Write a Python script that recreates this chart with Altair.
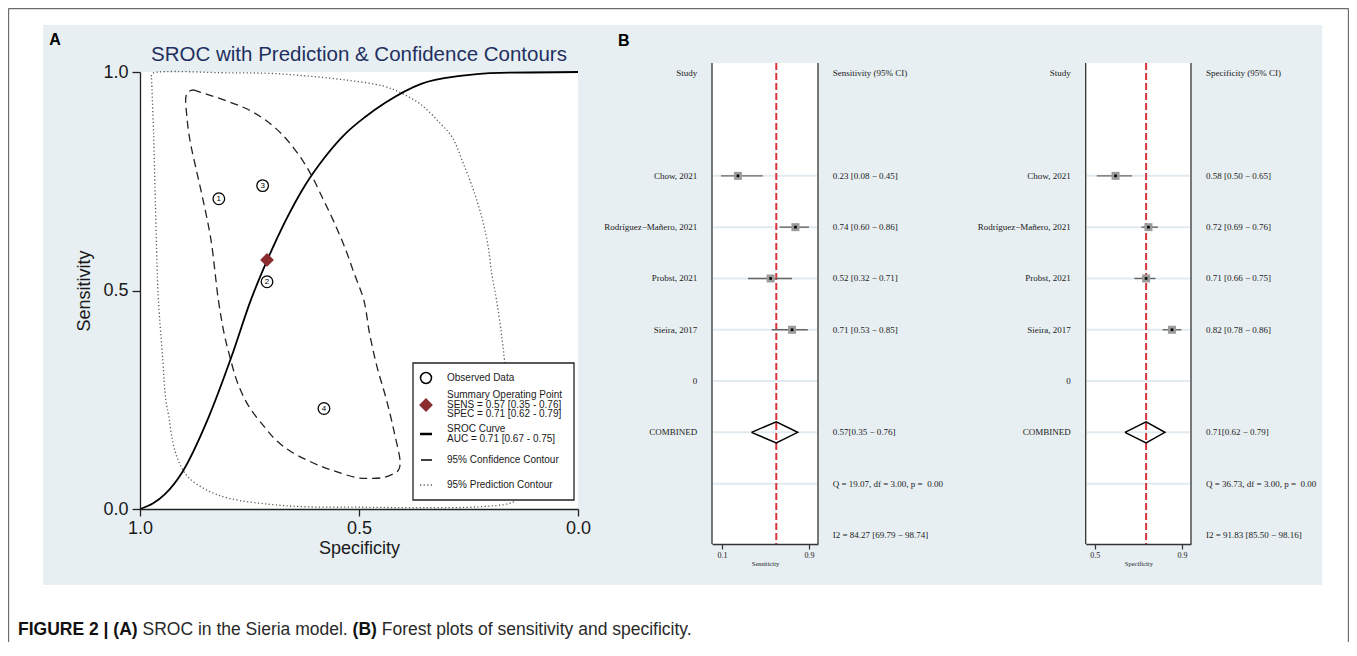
import altair as alt
import pandas as pd

# ---------------- data ----------------
studies = ["Chow, 2021", "Rodríguez−Mañero, 2021", "Probst, 2021", "Sieira, 2017"]
sroc_id = [4, 3, 2, 1]
sens = [0.23, 0.74, 0.52, 0.71]
sens_lo = [0.08, 0.60, 0.32, 0.53]
sens_hi = [0.45, 0.86, 0.71, 0.85]
spec = [0.58, 0.72, 0.71, 0.82]
spec_lo = [0.50, 0.69, 0.66, 0.78]
spec_hi = [0.65, 0.76, 0.75, 0.86]

sum_sens = [0.57, 0.35, 0.76]
sum_spec = [0.71, 0.62, 0.79]
auc = [0.71, 0.67, 0.75]
q_sens = [19.07, 3.00, 0.00]
i2_sens = [84.27, 69.79, 98.74]
q_spec = [36.73, 3.00, 0.00]
i2_spec = [91.83, 85.50, 98.16]
sens_ticks = [0.1, 0.9]
spec_ticks = [0.5, 0.9]
sroc_ticks = [0.0, 0.5, 1.0]

sroc_spec = [1.0, 0.970, 0.943, 0.905, 0.843, 0.791, 0.747, 0.711, 0.669, 0.623,
             0.578, 0.532, 0.486, 0.441, 0.358, 0.269, 0.178, 0.0]
sroc_sens = [0.0, 0.013, 0.034, 0.082, 0.211, 0.349, 0.478, 0.566, 0.657, 0.741,
             0.805, 0.858, 0.897, 0.929, 0.973, 0.991, 0.998, 1.0]

conf_spec = [0.878, 0.751, 0.690, 0.646, 0.611, 0.581, 0.559, 0.533, 0.511, 0.489,
             0.476, 0.459, 0.437, 0.419, 0.406, 0.410, 0.419, 0.445, 0.480, 0.507,
             0.550, 0.585, 0.655, 0.690, 0.716, 0.751, 0.777, 0.795, 0.808, 0.821,
             0.838, 0.856, 0.873, 0.886, 0.893, 0.895, 0.889, 0.878]
conf_sens = [0.959, 0.913, 0.871, 0.822, 0.768, 0.707, 0.661, 0.600, 0.539, 0.478,
             0.402, 0.326, 0.249, 0.173, 0.105, 0.089, 0.082, 0.072, 0.070, 0.072,
             0.085, 0.097, 0.131, 0.158, 0.188, 0.234, 0.288, 0.349, 0.402, 0.478,
             0.616, 0.707, 0.783, 0.844, 0.898, 0.944, 0.955, 0.959]

pred_spec = [0.974, 0.969, 0.965, 0.961, 0.958, 0.948, 0.941, 0.934, 0.926, 0.913,
             0.891, 0.847, 0.795, 0.707, 0.620, 0.489, 0.358, 0.227, 0.157, 0.144,
             0.168, 0.175, 0.186, 0.197, 0.205, 0.218, 0.236, 0.262, 0.288, 0.315,
             0.358, 0.402, 0.445, 0.533, 0.620, 0.707, 0.795, 0.969, 0.974]
pred_sens = [0.993, 0.860, 0.707, 0.555, 0.478, 0.341, 0.249, 0.211, 0.158, 0.112,
             0.074, 0.043, 0.024, 0.011, 0.005, 0.004, 0.003, 0.005, 0.013, 0.021,
             0.341, 0.402, 0.478, 0.539, 0.600, 0.661, 0.722, 0.791, 0.852, 0.883,
             0.925, 0.951, 0.968, 0.982, 0.991, 0.997, 0.998, 0.998, 0.993]

# ---------------- layout / style ----------------
W, H = 1341, 634
SANS = "Liberation Sans, Arial, Helvetica, sans-serif"
SERIF = "Liberation Serif, Times New Roman, serif"
BLUE_BG = "#e7eff2"
MAROON = "#8b2c31"
NBSP = "\u00a0"
ONE = pd.DataFrame({"k": [0]})

PX0, PX1, PY0, PY1 = 132, 570, 64, 501
FY0, FY1 = 55, 536


def box(x, x2, y, y2, **kw):
    return alt.Chart(ONE).mark_rect(**kw).encode(
        x=alt.value(x), x2=alt.value(x2), y=alt.value(y), y2=alt.value(y2))


def rule(x, x2, y, y2, **kw):
    return alt.Chart(ONE).mark_rule(**kw).encode(
        x=alt.value(x), x2=alt.value(x2), y=alt.value(y), y2=alt.value(y2))


def text_at(txt, x, y, size, align="left", weight="normal", color="#1a1a1a",
            font=SANS, baseline="middle"):
    return alt.Chart(ONE).mark_text(
        text=txt, fontSize=size, align=align, fontWeight=weight, color=color,
        font=font, baseline=baseline).encode(x=alt.value(x), y=alt.value(y))


# ---------------- background ----------------
background = [
    rule(0.5, 0.5, 0.5, H, color="#6b6b6b", strokeWidth=1.3),
    rule(0.5, 1340.5, 0.5, 0.5, color="#6b6b6b", strokeWidth=1.3),
    rule(1340.5, 1340.5, 0.5, H, color="#6b6b6b", strokeWidth=1.3),
    box(35, 1314, 17, 577, color=BLUE_BG),
]

# ---------------- panel A: SROC ----------------
sx = alt.Scale(domain=[0, 1], range=[PX1, PX0], nice=False, zero=False)
sy = alt.Scale(domain=[0, 1], range=[PY1, PY0], nice=False, zero=False)
ax_common = dict(labelFont=SANS, labelFontSize=18, titleFont=SANS, titleFontSize=18,
                 titleFontWeight="normal", domainColor="#222", tickColor="#222",
                 labelColor="#1a1a1a", titleColor="#1a1a1a", domainWidth=1.3,
                 tickWidth=1.3, grid=False, zindex=1, labelFlush=False,
                 labelOverlap=False, values=sroc_ticks, format=".1f")
x_axis = alt.Axis(orient="bottom", offset=PY1 - H, title="Specificity", tickSize=7,
                  labelPadding=3, titlePadding=2, **ax_common)
y_axis = alt.Axis(orient="left", offset=-PX0, title="Sensitivity", tickSize=8,
                  labelPadding=4, titlePadding=9, **ax_common)

sroc_df = pd.DataFrame({"spec": sroc_spec, "sens": sroc_sens, "i": range(len(sroc_spec))})
conf_df = pd.DataFrame({"spec": conf_spec, "sens": conf_sens, "i": range(len(conf_spec))})
pred_df = pd.DataFrame({"spec": pred_spec, "sens": pred_sens, "i": range(len(pred_spec))})
obs_df = pd.DataFrame({"spec": spec, "sens": sens, "id": [str(v) for v in sroc_id]})
sum_df = pd.DataFrame({"spec": [sum_spec[0]], "sens": [sum_sens[0]]})
tick_df = pd.DataFrame({"spec": sroc_ticks, "sens": sroc_ticks})


def enc(chart):
    return chart.encode(
        x=alt.X("spec:Q", scale=sx, axis=None),
        y=alt.Y("sens:Q", scale=sy, axis=None))


pred_line = enc(alt.Chart(pred_df).mark_line(
    color="#555", strokeWidth=1.3, strokeDash=[1.2, 2.4], interpolate="catmull-rom")
).encode(order="i:Q")
conf_line = enc(alt.Chart(conf_df).mark_line(
    color="#222", strokeWidth=1.3, strokeDash=[8, 5], interpolate="catmull-rom")
).encode(order="i:Q")
sroc_line = enc(alt.Chart(sroc_df).mark_line(
    color="black", strokeWidth=1.8, interpolate="monotone")).encode(order="i:Q")
obs_pts = enc(alt.Chart(obs_df).mark_point(
    shape="circle", filled=True, fill="white", stroke="black", strokeWidth=1.3,
    size=135, opacity=1))
obs_txt = enc(alt.Chart(obs_df).mark_text(
    fontSize=8, font=SANS, color="black", baseline="middle", dy=0.5)).encode(text="id:N")
sum_pt = enc(alt.Chart(sum_df).mark_point(
    shape="diamond", filled=True, color=MAROON, size=190, opacity=1))

# separate invisible layer that carries panel A's axes
sroc_axes = alt.Chart(tick_df).mark_point(opacity=0).encode(
    x=alt.X("spec:Q", scale=sx, axis=x_axis),
    y=alt.Y("sens:Q", scale=sy, axis=y_axis))

leg_sum = ["Summary Operating Point",
           f"SENS = {sum_sens[0]:.2f} [{sum_sens[1]:.2f} - {sum_sens[2]:.2f}]",
           f"SPEC = {sum_spec[0]:.2f} [{sum_spec[1]:.2f} - {sum_spec[2]:.2f}]"]
leg_sroc = ["SROC Curve", f"AUC = {auc[0]:.2f} [{auc[1]:.2f} - {auc[2]:.2f}]"]
LX = 439
legend = [
    box(405, 566, 355, 492, fill="white", stroke="#222", strokeWidth=1.3),
    alt.Chart(ONE).mark_point(shape="circle", filled=True, fill="white", stroke="black",
                              strokeWidth=1.5, size=120, opacity=1).encode(
        x=alt.value(418), y=alt.value(370)),
    alt.Chart(ONE).mark_point(shape="diamond", filled=True, color=MAROON, size=190,
                              opacity=1).encode(x=alt.value(418), y=alt.value(397)),
    rule(412, 424, 426, 426, color="black", strokeWidth=2.5),
    rule(413, 424, 452, 452, color="black", strokeWidth=1.5),
    rule(412, 424, 477, 477, color="#555", strokeWidth=1.3, strokeDash=[1.2, 2.4]),
    text_at("Observed Data", LX, 370, 10),
    text_at(leg_sum[0], LX, 387, 10),
    text_at(leg_sum[1], LX, 396.5, 10),
    text_at(leg_sum[2], LX, 406, 10),
    text_at(leg_sroc[0], LX, 421, 10),
    text_at(leg_sroc[1], LX, 431, 10),
    text_at("95% Confidence Contour", LX, 452, 10),
    text_at("95% Prediction Contour", LX, 476.5, 10),
]

panel_a = alt.layer(
    box(PX0, PX1, PY0, PY1, color="white"),
    pred_line, conf_line, sroc_line, obs_pts, obs_txt, sum_pt,
    *legend,
    text_at("SROC with Prediction & Confidence Contours", (PX0 + PX1) / 2, 47, 20.5,
            align="center", color="#1f3060"),
)


# ---------------- panel B: forest plots ----------------
def forest(est, lo, hi, comb, q, i2, x0, x1, dom, axdom, ticks, header, axtitle,
           name_x, val_x):
    ys = alt.Scale(domain=[-0.2, 9.176], range=[FY0, FY1], nice=False, zero=False)
    xs = alt.Scale(domain=dom, range=[x0, x1], nice=False, zero=False)
    rows = [2, 3, 4, 5]
    sdf = pd.DataFrame({"row": rows, "est": est, "lo": lo, "hi": hi})
    grid_df = pd.DataFrame({"row": [2, 3, 4, 5, 6, 7, 8]})
    dia = pd.DataFrame({
        "v": [comb[1], comb[0], comb[2], comb[0], comb[1]],
        "row": [7, 7 - 0.205, 7, 7 + 0.205, 7],
        "i": [0, 1, 2, 3, 4]})
    names = pd.DataFrame({"row": [0] + rows + [6, 7],
                          "t": ["Study"] + studies + ["0", "COMBINED"]})
    vals = pd.DataFrame({
        "row": [0] + rows + [7, 8, 9],
        "t": [header]
        + [f"{e:.2f} [{l:.2f} − {h:.2f}]" for e, l, h in zip(est, lo, hi)]
        + [f"{NBSP}{comb[0]:.2f}[{comb[1]:.2f} − {comb[2]:.2f}]",
           f"Q = {q[0]:.2f}, df = {q[1]:.2f}, p = {NBSP}{q[2]:.2f}",
           f"I2 = {i2[0]:.2f} [{i2[1]:.2f} − {i2[2]:.2f}]"]})
    Y = alt.Y("row:Q", scale=ys, axis=None)

    layers = [
        box(x0, x1, FY0, FY1, color="white"),
        alt.Chart(grid_df).mark_rule(color="#e1ebef", strokeWidth=2).encode(
            y=Y, x=alt.value(x0 + 1), x2=alt.value(x1 - 1)),
        alt.Chart(pd.DataFrame({"v": [comb[0]]})).mark_rule(
            color="#d8343b", strokeDash=[7, 3], strokeWidth=2).encode(
            x=alt.X("v:Q", scale=xs, axis=None), y=alt.value(FY0), y2=alt.value(FY1)),
        alt.Chart(sdf).mark_rule(color="#666", strokeWidth=1.4).encode(
            x=alt.X("lo:Q", scale=xs, axis=None), x2="hi:Q", y=Y),
        alt.Chart(sdf).mark_square(size=64, color="#9b9b9b", opacity=1).encode(
            x=alt.X("est:Q", scale=xs, axis=None), y=Y),
        alt.Chart(sdf).mark_square(size=7, color="black", opacity=1).encode(
            x=alt.X("est:Q", scale=xs, axis=None), y=Y),
        alt.Chart(dia).mark_line(color="black", strokeWidth=1.5).encode(
            x=alt.X("v:Q", scale=xs, axis=None), y=Y, order="i:Q"),
        rule(x0, x0, FY0, FY1, color="#333", strokeWidth=1.3),
        rule(x1, x1, FY0, FY1, color="#333", strokeWidth=1.3),
        alt.Chart(names).mark_text(align="right", baseline="middle", font=SERIF,
                                   fontSize=9, color="#1a1a1a").encode(
            x=alt.value(name_x), y=Y, text="t:N"),
        alt.Chart(vals).mark_text(align="left", baseline="middle", font=SERIF,
                                  fontSize=9, color="#1a1a1a").encode(
            x=alt.value(val_x), y=Y, text="t:N"),
    ]
    body = alt.layer(*layers)
    axis_layer = alt.Chart(pd.DataFrame({"t": ticks})).mark_point(opacity=0).encode(
        x=alt.X("t:Q", scale=alt.Scale(domain=axdom, range=[x0, x1], nice=False, zero=False),
                axis=alt.Axis(orient="bottom", offset=FY1 - H, values=ticks, format=".1f",
                              title=axtitle, labelFont=SERIF, labelFontSize=8,
                              titleFont=SERIF, titleFontSize=6.5, titleFontWeight="normal",
                              tickSize=5, labelPadding=2, titlePadding=1,
                              domainColor="#333", tickColor="#333", labelColor="#1a1a1a",
                              titleColor="#1a1a1a", domainWidth=1.3, tickWidth=1.2,
                              grid=False, zindex=1, labelFlush=False)))
    return body, axis_layer


fl_body, fl_axis = forest(sens, sens_lo, sens_hi, sum_sens, q_sens, i2_sens,
                          704, 810, [0.0, 0.94], [0.008, 0.983], sens_ticks,
                          "Sensitivity (95% CI)", "Sensiticity", 689.3, 824.7)
fr_body, fr_axis = forest(spec, spec_lo, spec_hi, sum_spec, q_spec, i2_spec,
                          1077.7, 1183, [0.453, 0.901], [0.4587, 0.9417], spec_ticks,
                          "Specificity (95% CI)", "Specificity", 1062.7, 1198)

# ---------------- labels & caption ----------------
AR_REG = {" ": 278, "(": 333, ")": 333, ".": 278, "|": 260, "2": 556, "A": 667, "B": 667,
          "C": 722, "E": 667, "F": 611, "G": 778, "I": 278, "O": 778, "R": 722, "S": 667,
          "U": 722, "a": 556, "b": 556, "c": 500, "d": 556, "e": 556, "f": 278, "g": 556,
          "h": 556, "i": 222, "l": 222, "m": 833, "n": 556, "o": 556, "p": 556, "r": 333,
          "s": 500, "t": 278, "v": 500, "y": 500}
AR_BOLD = {" ": 278, "(": 333, ")": 333, "|": 280, "2": 556, "A": 722, "B": 722, "E": 667,
           "F": 611, "G": 778, "I": 278, "R": 722, "U": 722}

caption_parts = [("FIGURE 2 | (A)", "bold"), (" SROC in the Sieria model. ", "normal"),
                 ("(B)", "bold"), (" Forest plots of sensitivity and specificity.", "normal")]
CAP_SIZE = 17.5
cap_layers = []
cx = 10
for txt, wt in caption_parts:
    table = AR_BOLD if wt == "bold" else AR_REG
    lead = len(txt) - len(txt.lstrip(" "))
    x_start = cx + lead * table[" "] / 1000 * CAP_SIZE
    cap_layers.append(text_at(txt.strip(" "), x_start, 622, CAP_SIZE, weight=wt,
                              color="#111" if wt == "bold" else "#2a2a2a"))
    cx += sum(table.get(ch, 556) for ch in txt) / 1000 * CAP_SIZE

labels = [
    text_at("A", 41.3, 37, 16, weight="bold", baseline="alphabetic", color="black"),
    text_at("B", 610, 37.7, 16, weight="bold", baseline="alphabetic", color="black"),
]

chart = alt.layer(
    *background, panel_a, sroc_axes, fl_body, fl_axis, fr_body, fr_axis, *labels,
    *cap_layers
).resolve_scale(x="independent", y="independent").properties(
    width=W, height=H, padding=0, autosize=alt.AutoSizeParams(type="none")
).configure_view(stroke=None)

chart.save("out.html", embed_options={"renderer": "svg", "actions": False})
